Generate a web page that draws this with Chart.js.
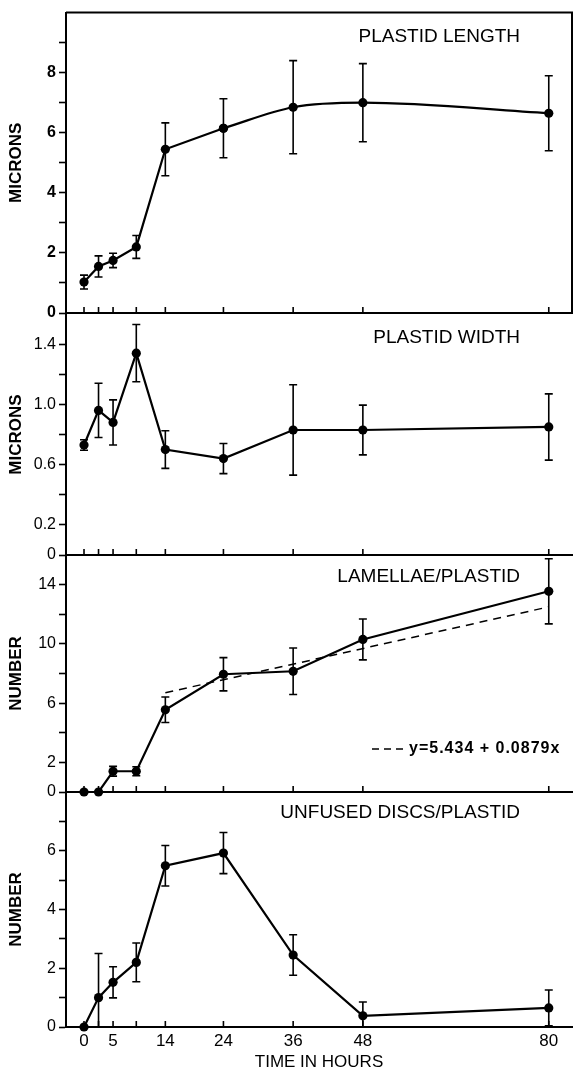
<!DOCTYPE html>
<html>
<head>
<meta charset="utf-8">
<script src="https://cdn.jsdelivr.net/npm/chart.js@4.4.1/dist/chart.umd.min.js"></script>
<style>
  html, body { margin: 0; padding: 0; background: #fff; }
  #wrap { position: relative; width: 577px; height: 1071px; overflow: hidden; }
  #wrap canvas { position: absolute; left: 0; }
</style>
</head>
<body>
<div id="wrap">
  <canvas id="lengthChart" width="577" height="330" style="top:0px"></canvas>
  <canvas id="widthChart" width="577" height="276" style="top:296px"></canvas>
  <canvas id="lamellaeChart" width="577" height="272" style="top:537px"></canvas>
  <canvas id="discsChart" width="577" height="297" style="top:774px"></canvas>
</div>
<script>
// sampling times (hours) and the labelled ones on the bottom axis
const hours = [0, 2.5, 5, 9, 14, 24, 36, 48, 80];
const labelledHours = [0, 5, 14, 24, 36, 48, 80];

// plastid length (microns)
const lengthMean = [1.03, 1.55, 1.75, 2.2, 5.45, 6.15, 6.85, 7.0, 6.65];
const lengthErr = [0.23, 0.35, 0.24, 0.38, 0.88, 0.98, 1.55, 1.3, 1.25];

// plastid width (microns)
const widthMean = [0.73, 0.96, 0.88, 1.34, 0.70, 0.64, 0.83, 0.83, 0.85];
const widthErr = [0.035, 0.18, 0.15, 0.19, 0.125, 0.1, 0.3, 0.165, 0.22];

// lamellae per plastid, with fitted regression line end points
const lamellaeMean = [0, 0, 1.4, 1.4, 5.55, 7.95, 8.15, 10.3, 13.55];
const lamellaeErr = [0, 0, 0.33, 0.3, 0.86, 1.12, 1.57, 1.38, 2.2];
const fitHours = [14, 80];
const fitValues = [6.7, 12.5];
const fitLabel = 'y=5.434 + 0.0879x';

// unfused discs per plastid
const discsMean = [0, 1.0, 1.52, 2.2, 5.49, 5.92, 2.45, 0.38, 0.65];
const discsErr = [0, 1.5, 0.53, 0.66, 0.69, 0.7, 0.69, 0.47, 0.61];

Chart.defaults.font.family = '"Liberation Sans", Arial, sans-serif';
Chart.defaults.color = '#000';

const toPoints = (xs, ys) => xs.map((h, i) => ({ x: h, y: ys[i] }));

// vertical error bars with caps, drawn under the line
const errorBars = {
    id: 'errorBars',
    beforeDatasetsDraw(chart, args, opts) {
        if (!opts.errors) return;
        const { ctx, chartArea, scales: { x, y } } = chart;
        ctx.save();
        ctx.beginPath();
        ctx.rect(chartArea.left, chartArea.top - 1, chartArea.right - chartArea.left, chartArea.bottom - chartArea.top + 2);
        ctx.clip();
        ctx.strokeStyle = '#000';
        ctx.lineWidth = 1.6;
        opts.errors.forEach((e, i) => {
            if (!e) return;
            const px = x.getPixelForValue(hours[i]);
            const hi = y.getPixelForValue(opts.means[i] + e);
            const lo = y.getPixelForValue(opts.means[i] - e);
            ctx.beginPath();
            ctx.moveTo(px, hi); ctx.lineTo(px, lo);
            ctx.moveTo(px - 4, hi); ctx.lineTo(px + 4, hi);
            ctx.moveTo(px - 4, lo); ctx.lineTo(px + 4, lo);
            ctx.stroke();
        });
        ctx.restore();
    }
};

// small tick marks pointing up into the plot at each sampling time,
// panel captions and the optional frame / fit key
const decorations = {
    id: 'decorations',
    afterDraw(chart, args, opts) {
        const { ctx, chartArea, scales: { x } } = chart;
        ctx.save();
        ctx.strokeStyle = '#000';
        ctx.fillStyle = '#000';
        ctx.lineWidth = 1.6;
        hours.forEach(h => {
            const px = x.getPixelForValue(h);
            ctx.beginPath();
            ctx.moveTo(px, chartArea.bottom);
            ctx.lineTo(px, chartArea.bottom - 6);
            ctx.stroke();
        });
        if (opts.frame) {
            ctx.lineWidth = 2;
            ctx.beginPath();
            ctx.moveTo(chartArea.left, chartArea.top);
            ctx.lineTo(chartArea.right, chartArea.top);
            ctx.lineTo(chartArea.right, chartArea.bottom);
            ctx.stroke();
        }
        if (opts.caption) {
            ctx.font = '19px "Liberation Sans", Arial, sans-serif';
            ctx.textAlign = 'right';
            ctx.textBaseline = 'middle';
            ctx.fillText(opts.caption, 520, chartArea.top + opts.captionOffset);
        }
        if (opts.fitKey) {
            const ky = chartArea.top + opts.fitKey.offset;
            ctx.lineWidth = 1.5;
            ctx.setLineDash([7, 5]);
            ctx.beginPath();
            ctx.moveTo(372, ky);
            ctx.lineTo(404, ky);
            ctx.stroke();
            ctx.setLineDash([]);
            ctx.font = 'bold 16px "Liberation Sans", Arial, sans-serif';
            ctx.letterSpacing = '1px';
            ctx.textAlign = 'left';
            ctx.textBaseline = 'middle';
            ctx.fillText(opts.fitKey.text, 409, ky);
        }
        ctx.restore();
    }
};

function yAxis(max, step, title, labelled, bold, fmt) {
    return {
        min: 0,
        max: max,
        afterFit: s => { s.width = 66; },
        ticks: {
            stepSize: step,
            padding: 3,
            font: { size: 16, weight: bold ? 'bold' : 'normal' },
            callback: v => labelled(v) ? fmt(v) : ''
        },
        grid: {
            drawOnChartArea: false,
            tickLength: 7,
            tickWidth: 1.6,
            tickColor: c => (c.tick && c.tick.value >= max - 1e-6) ? 'rgba(0,0,0,0)' : '#000'
        },
        border: { display: true, color: '#000', width: 2 },
        title: {
            display: true,
            text: title,
            font: { size: 17, weight: 'bold' },
            padding: { top: 6, bottom: 0 }
        }
    };
}

function xAxis(showLabels) {
    const axis = {
        type: 'linear',
        min: -3.1,
        max: 84.0,
        border: { display: true, color: '#000', width: 2 },
        grid: { display: false, drawTicks: false }
    };
    if (showLabels) {
        axis.afterFit = s => { s.height = 44; };
        axis.afterBuildTicks = s => { s.ticks = hours.map(v => ({ value: v })); };
        axis.ticks = {
            autoSkip: false,
            maxRotation: 0,
            padding: 4,
            font: { size: 17 },
            callback: v => labelledHours.includes(v) ? String(v) : ''
        };
        axis.title = {
            display: true,
            text: 'TIME IN HOURS',
            font: { size: 17, lineHeight: 1 },
            padding: { top: 0, bottom: 0 }
        };
    } else {
        axis.afterFit = s => { s.height = 0; };
        axis.ticks = { display: false };
    }
    return axis;
}

function lineSet(xs, ys, extra) {
    return Object.assign({
        data: toPoints(xs, ys),
        borderColor: '#000',
        borderWidth: 2.2,
        pointRadius: 4.6,
        pointBackgroundColor: '#000',
        pointBorderWidth: 0,
        tension: 0,
        clip: false
    }, extra || {});
}

function makeChart(canvasId, datasets, scales, padding, deco, means, errors) {
    return new Chart(document.getElementById(canvasId), {
        type: 'line',
        data: { datasets: datasets },
        options: {
            responsive: false,
            animation: false,
            events: [],
            layout: { padding: padding },
            scales: scales,
            plugins: {
                legend: { display: false },
                tooltip: { enabled: false },
                errorBars: { means: means, errors: errors },
                decorations: deco
            }
        },
        plugins: [errorBars, decorations]
    });
}

const intLabel = v => String(v);
const decLabel = v => (Math.abs(v) < 1e-9 ? '0' : v.toFixed(1));

document.addEventListener('DOMContentLoaded', () => {
    // length: straight rise up to 24 h, smooth curve through the later points
    makeChart('lengthChart',
        [
            lineSet(hours.slice(0, 6), lengthMean.slice(0, 6)),
            lineSet(hours.slice(5), lengthMean.slice(5), { cubicInterpolationMode: 'monotone' })
        ],
        { x: xAxis(false), y: yAxis(10, 1, 'MICRONS', v => v % 2 === 0 && v <= 8, true, intLabel) },
        { top: 12, bottom: 17, left: 0, right: 5 },
        { frame: true, caption: 'PLASTID LENGTH', captionOffset: 24 },
        lengthMean, lengthErr);

    makeChart('widthChart',
        [lineSet(hours, widthMean)],
        { x: xAxis(false), y: yAxis(1.6, 0.2, 'MICRONS', v => [0, 2, 6, 10, 14].includes(Math.round(v * 10)), false, decLabel) },
        { top: 18, bottom: 17, left: 0, right: 5 },
        { caption: 'PLASTID WIDTH', captionOffset: 24 },
        widthMean, widthErr);

    makeChart('lamellaeChart',
        [
            lineSet(hours, lamellaeMean),
            lineSet(fitHours, fitValues, { borderWidth: 1.5, borderDash: [8, 6], pointRadius: 0 })
        ],
        { x: xAxis(false), y: yAxis(16, 2, 'NUMBER', v => [0, 2, 6, 10, 14].includes(v), false, intLabel) },
        { top: 18, bottom: 17, left: 0, right: 5 },
        { caption: 'LAMELLAE/PLASTID', captionOffset: 22, fitKey: { text: fitLabel, offset: 194 } },
        lamellaeMean, lamellaeErr);

    makeChart('discsChart',
        [lineSet(hours, discsMean)],
        { x: xAxis(true), y: yAxis(8, 1, 'NUMBER', v => v % 2 === 0 && v <= 6, false, intLabel) },
        { top: 18, bottom: 0, left: 0, right: 5 },
        { caption: 'UNFUSED DISCS/PLASTID', captionOffset: 21 },
        discsMean, discsErr);
});
</script>
</body>
</html>
